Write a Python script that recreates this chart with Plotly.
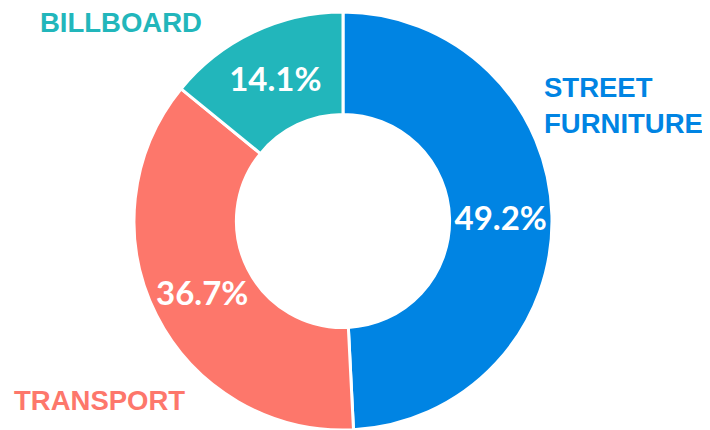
import plotly.graph_objects as go

categories = ["STREET FURNITURE", "TRANSPORT", "BILLBOARD"]
shares = [49.2, 36.7, 14.1]
colors = ["#0084E3", "#FD776B", "#22B6BB"]

W, H = 710, 430
OFF = 8  # page body margin

def px(x):
    return (x - OFF) / W

def py(y):
    return 1 - (y - OFF) / H

fig = go.Figure(go.Pie(
    labels=categories,
    values=shares,
    sort=False,
    direction="clockwise",
    rotation=0,
    hole=0.51,
    marker=dict(colors=colors, line=dict(color="white", width=3)),
    texttemplate="%{value:.1f}%",
    textposition="inside",
    insidetextorientation="horizontal",
    textfont=dict(family="Lato", size=33, color="white", weight="bold"),
    domain=dict(x=[px(134), px(552)], y=[py(430), py(12)]),
    showlegend=False,
    hoverinfo="label+percent",
))

label_font = dict(family="Liberation Sans, Arial", size=27.5, weight="bold")
fig.add_annotation(text="BILLBOARD", x=px(121), y=py(22), xref="paper", yref="paper",
                   showarrow=False, xanchor="center", yanchor="middle", borderpad=0,
                   font=dict(**label_font, color=colors[2]))
fig.add_annotation(text="STREET<br>FURNITURE", x=px(543), y=py(106), xref="paper", yref="paper",
                   showarrow=False, xanchor="left", yanchor="middle", align="left", borderpad=0,
                   font=dict(**label_font, color=colors[0]))
fig.add_annotation(text="TRANSPORT", x=px(99), y=py(400), xref="paper", yref="paper",
                   showarrow=False, xanchor="center", yanchor="middle", borderpad=0,
                   font=dict(**label_font, color=colors[1]))

fig.update_layout(width=W, height=H, margin=dict(l=0, r=0, t=0, b=0),
                  paper_bgcolor="white", plot_bgcolor="white")
fig.write_html("out.html")
